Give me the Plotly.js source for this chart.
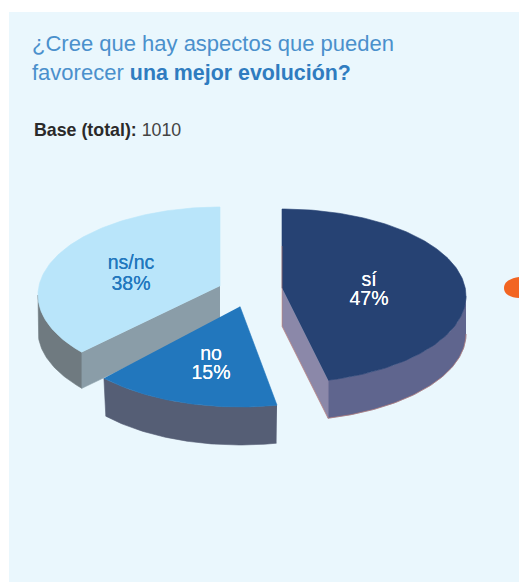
<!DOCTYPE html>
<html><head><meta charset="utf-8">
<script src="https://cdn.plot.ly/plotly-3.0.1.min.js"></script>
<style>html,body{margin:0;padding:0;background:#fff}#c{width:519px;height:582px}</style>
</head><body><div id="c"></div>
<script>
const categories = ['sí', 'no', 'ns/nc'];
const values = [47, 15, 38];
const baseLabel = 'Base (total):';
const baseValue = 1010;
const topColors = ['#264273', '#2277bd', '#b9e5fa'];
const rimColors = ['#5f658e', '#555e75', '#6f7a80'];
const cutColors = ['#8b88a9', '#555e75', '#8a9da8'];
const labelColors = ['#ffffff', '#ffffff', '#2277bd'];

// Perspective-flattened exploded pie: screen-pixel axes, one ellipse per slice
const geo = [
  {ax:282, ay:288, cx:282, cy:296, rx:184, ry:87, start:0,      scale:0.978, dir:1,  depth:38, rimScale:1,     rim:[90,165.5],    lx:369, ly:281.5, gap:19, glow:0.5},
  {ax:240, ay:306.5, cx:240, cy:319, rx:184, ry:88, start:168.4, scale:1.098, dir:1,  depth:38, rimScale:0.986, rim:[168.4,227.7], lx:211, ly:355.5, gap:18.5, glow:0.3},
  {ax:220, ay:286, cx:220, cy:295, rx:182, ry:88, start:0,      scale:0.955, dir:-1, depth:36, rimScale:1,     rim:[-130.7,-90],  lx:131, ly:264,   gap:21.5, glow:0.3}
];
function arc(g, a0, a1, dy, k){
  const n = Math.max(2, Math.ceil(Math.abs(a1-a0))), xs=[], ys=[];
  for(let i=0;i<=n;i++){
    const t=(a0+(a1-a0)*i/n)*Math.PI/180;
    xs.push(g.cx+k*g.rx*Math.sin(t)); ys.push(g.cy-g.ry*Math.cos(t)+dy);
  }
  return {xs,ys};
}
function poly(x,y,color){
  return {type:'scatter',mode:'lines',x:x,y:y,fill:'toself',fillcolor:color,
    line:{width:0.6,color:color},hoverinfo:'skip',showlegend:false};
}
const traces=[];
[2,1,0].forEach(i=>{
  const g=geo[i], sweep=values[i]*3.6*g.scale*g.dir, end=g.start+sweep;
  const rimT=arc(g,g.rim[0],g.rim[1],0,1), rimB=arc(g,g.rim[0],g.rim[1],g.depth,g.rimScale);
  traces.push(poly(rimT.xs.concat(rimB.xs.slice().reverse()),rimT.ys.concat(rimB.ys.slice().reverse()),rimColors[i]));
  const e=arc(g,end,end,0,1);
  const ex=e.xs[0], ey=e.ys[0];
  if(i!==1) traces.push(poly([g.ax,ex,ex,g.ax],[g.ay,ey,ey+g.depth,g.ay+g.depth],cutColors[i]));
  const top=arc(g,g.start,end,0,1);
  traces.push(poly([g.ax].concat(top.xs),[g.ay].concat(top.ys),topColors[i]));
  if(i===0){
    // thin coral edge along the lower outline of the largest slice
    const b=arc(g,end,g.rim[0],g.depth,1);
    traces.push({type:'scatter',mode:'lines',x:[g.ax,g.ax].concat(b.xs),y:[g.ay-42,g.ay+g.depth].concat(b.ys),
      line:{width:0.7,color:'rgba(214,130,110,0.75)'},hoverinfo:'skip',showlegend:false});
  }
});
geo.forEach((g,i)=>{
  traces.push({type:'scatter',mode:'text',x:[g.lx,g.lx],y:[g.ly,g.ly+g.gap],
    text:[categories[i],values[i]+'%'],textposition:'middle center',
    textfont:{family:'"Liberation Sans",Arial,sans-serif',size:19.5,color:labelColors[i],
      shadow:'0 0 '+g.glow+'px '+labelColors[i]},
    hoverinfo:'skip',showlegend:false});
});
const layout={
  width:519,height:582,margin:{l:0,r:0,t:0,b:0},showlegend:false,
  paper_bgcolor:'#ffffff',plot_bgcolor:'rgba(0,0,0,0)',
  xaxis:{range:[0,519],visible:false,fixedrange:true},
  yaxis:{range:[582,0],visible:false,fixedrange:true},
  title:{text:'¿Cree que hay aspectos que pueden<br>favorecer <b style="color:#2f7cc0;font-size:21.4px">una mejor evolución?</b>',
    x:32/519,xanchor:'left',xref:'paper',y:1-51/582,yanchor:'top',yref:'paper',
    font:{family:'"Liberation Sans",Arial,sans-serif',size:22,color:'#4a90cc'}},
  shapes:[
    {type:'rect',layer:'below',xref:'x',yref:'y',x0:9,x1:519,y0:12,y1:582,fillcolor:'#eaf7fd',line:{width:0}},
    {type:'path',layer:'above',xref:'x',yref:'y',path:'M519,277 C512,278 504,281 504,288 C504,295 512,298 519,298 Z',fillcolor:'#f26522',line:{width:0}}
  ],
  annotations:[{xref:'x',yref:'y',x:32,y:129.5,xanchor:'left',yanchor:'middle',showarrow:false,
    text:'<b>'+baseLabel+'</b> <span style="color:#444444">'+baseValue+'</span>',
    font:{family:'"Liberation Sans",Arial,sans-serif',size:17.8,color:'#2b2a2a'}}]
};
Plotly.newPlot('c',traces,layout,{displayModeBar:false,staticPlot:true});
</script></body></html>
